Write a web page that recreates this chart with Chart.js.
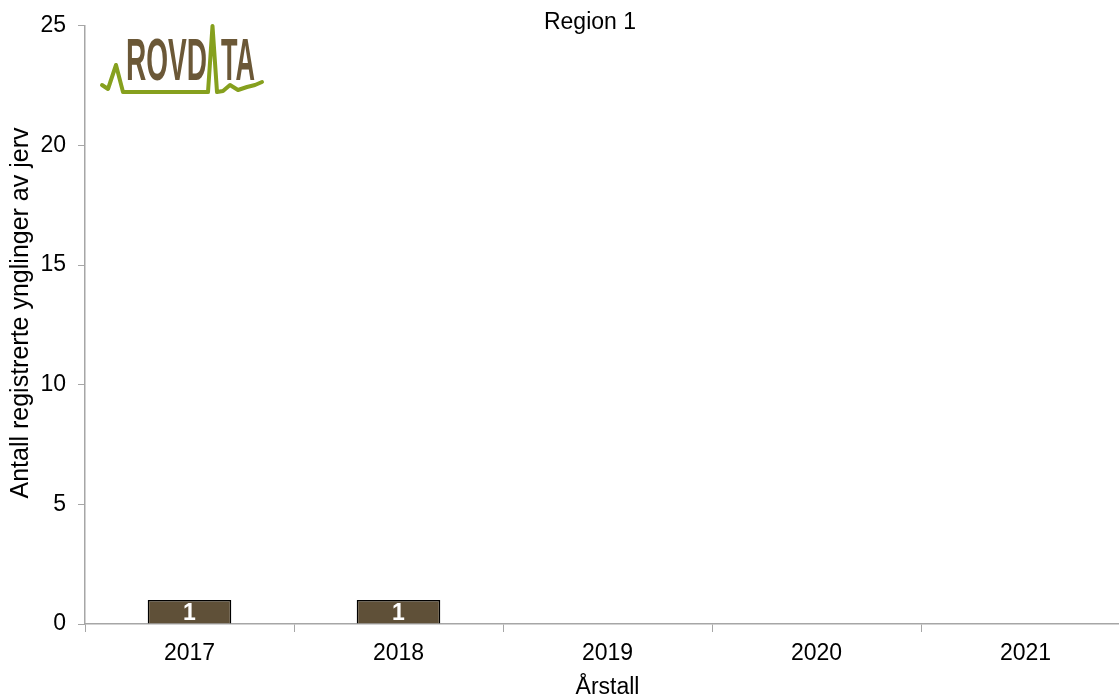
<!DOCTYPE html>
<html>
<head>
<meta charset="utf-8">
<script src="https://cdn.jsdelivr.net/npm/chart.js@4"></script>
<style>
  html, body { margin: 0; padding: 0; overflow: hidden; background: #fff; }
  #wrap { width: 1130px; height: 697px; }
</style>
</head>
<body>
<div id="wrap"><canvas id="chart" width="1130" height="697"></canvas></div>
<script>
// Registrerte ynglinger av jerv per år, region 1
const aar = ['2017', '2018', '2019', '2020', '2021'];
const ynglinger = [1, 1, null, null, null];
const yTicks = [0, 5, 10, 15, 20, 25];

const FONT = '"Liberation Sans", Arial, sans-serif';
const GRAA = '#a6a6a6';
const BRUN = '#5f5038';
const GROENN = '#86a01e';

Chart.defaults.font.family = FONT;
Chart.defaults.color = '#000';

// verdi midt i hver søyle
const etiketter = {
  id: 'etiketter',
  afterDatasetsDraw(chart) {
    const ctx = chart.ctx;
    const meta = chart.getDatasetMeta(0);
    ctx.save();
    ctx.font = 'bold 23px ' + FONT;
    ctx.fillStyle = '#fff';
    ctx.textAlign = 'center';
    ctx.textBaseline = 'middle';
    meta.data.forEach((bar, i) => {
      const v = ynglinger[i];
      if (v == null) return;
      ctx.fillText(String(v), bar.x, (bar.y + bar.base) / 2 + 1.5);
    });
    ctx.restore();
  }
};

// tittel, y-aksetittel og Rovdata-logo
const pynt = {
  id: 'pynt',
  afterDraw(chart) {
    const ctx = chart.ctx;
    ctx.save();
    ctx.font = '23px ' + FONT;
    ctx.fillStyle = '#000';
    ctx.textAlign = 'center';
    ctx.textBaseline = 'middle';
    ctx.fillText('Region 1', 590, 23);

    ctx.save();
    ctx.font = '25px ' + FONT;
    ctx.translate(21, 313);
    ctx.rotate(-Math.PI / 2);
    ctx.fillText('Antall registrerte ynglinger av jerv', 0, 0);
    ctx.restore();

    // grønn "puls"-linje
    const linje = [[102, 85], [108, 89], [116, 65], [123, 92], [208, 92], [212.5, 26],
                   [217, 92], [223, 91], [230, 85], [238, 90], [247, 87], [255, 85], [262, 82]];
    ctx.strokeStyle = GROENN;
    ctx.lineWidth = 4;
    ctx.lineJoin = 'round';
    ctx.lineCap = 'round';
    ctx.beginPath();
    linje.forEach(([x, y], i) => i ? ctx.lineTo(x, y) : ctx.moveTo(x, y));
    ctx.stroke();

    // smal, fet skrift
    ctx.fillStyle = '#6b5837';
    ctx.textAlign = 'left';
    ctx.textBaseline = 'alphabetic';
    ctx.font = 'bold 59px "Liberation Sans Narrow", "Liberation Sans", sans-serif';
    const tekst = (t, x0, x1) => {
      const w = ctx.measureText(t).width;
      ctx.save();
      ctx.translate(x0, 80);
      ctx.scale((x1 - x0) / w, 1);
      ctx.fillText(t, 0, 0);
      ctx.restore();
    };
    tekst('ROVD', 126, 207);
    tekst('TA', 221, 255);
    ctx.restore();
  }
};

new Chart(document.getElementById('chart'), {
  type: 'bar',
  data: {
    labels: aar,
    datasets: [{
      data: ynglinger,
      backgroundColor: BRUN,
      borderColor: '#000',
      borderWidth: 1.5,
      categoryPercentage: 1,
      barPercentage: 0.4
    }]
  },
  options: {
    responsive: false,
    animation: false,
    layout: { padding: { top: 23, right: 0, bottom: 0, left: 0 } },
    plugins: {
      legend: { display: false },
      tooltip: { enabled: false }
    },
    scales: {
      x: {
        offset: true,
        grid: { offset: true, drawOnChartArea: false, color: GRAA, tickLength: 8 },
        border: { color: GRAA, width: 1.5 },
        ticks: { font: { size: 23 }, padding: 8, maxRotation: 0 },
        title: { display: true, text: 'Årstall', font: { size: 23 }, padding: { top: 0, bottom: -4 } },
        afterFit: s => { s.height = 73; }
      },
      y: {
        min: yTicks[0],
        max: yTicks[yTicks.length - 1],
        afterBuildTicks: s => { s.ticks = yTicks.map(v => ({ value: v })); },
        grid: { drawOnChartArea: false, color: GRAA, tickLength: 7 },
        border: { color: GRAA, width: 1.5 },
        ticks: { font: { size: 23 }, padding: 12 },
        afterFit: s => { s.width = 85; }
      }
    }
  },
  plugins: [etiketter, pynt]
});
</script>
</body>
</html>
